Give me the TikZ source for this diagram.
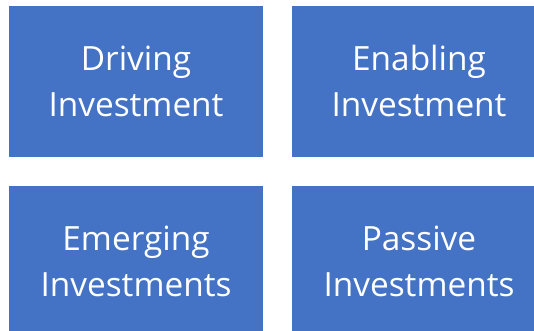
\documentclass[tikz,border=0pt]{standalone}
\usepackage{fontspec}
\setmainfont{Open Sans}
\definecolor{boxblue}{HTML}{4472C4}
\begin{document}
\begin{tikzpicture}[x=1bp,y=-1bp,
  tile/.style={fill=boxblue,draw=none,minimum width=254bp,minimum height=151bp,inner sep=0pt,
    text=white,align=center,font=\fontsize{33.5}{46}\selectfont}]
\useasboundingbox (0,0) rectangle (534,330);
\clip (0,0) rectangle (534,330);
\node[tile] (a) at (136,81) {Driving\\Investment};
\node[tile] (b) at (419,81) {Enabling\\Investment};
\node[tile] (c) at (136,261) {Emerging\\Investments};
\node[tile] (d) at (419,261) {Passive\\Investments};
\end{tikzpicture}
\end{document}
